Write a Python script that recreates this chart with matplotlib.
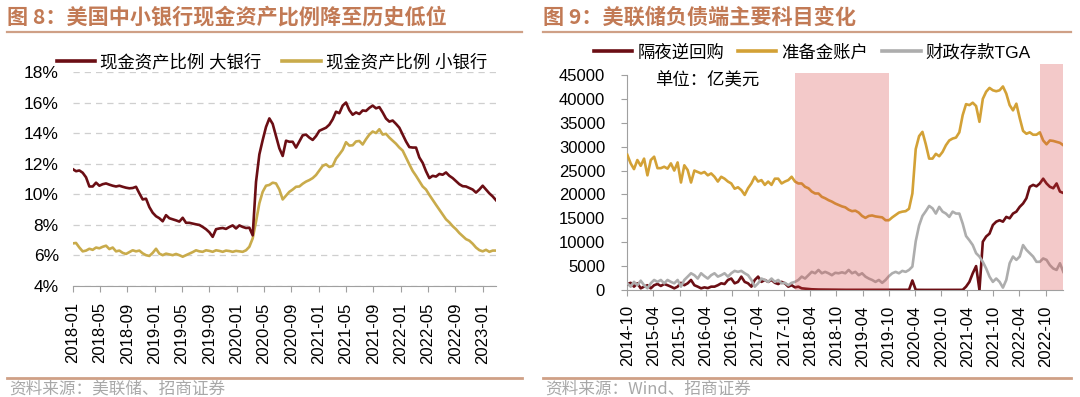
import numpy as np
import pandas as pd
import matplotlib
matplotlib.use('Agg')
import matplotlib.pyplot as plt
import matplotlib.dates as mdates
from matplotlib.lines import Line2D

plt.rcParams['font.family'] = ['Liberation Sans', 'Noto Sans CJK SC', 'DejaVu Sans']

# 图8：现金资产比例（%），半月频
big_bank = [11.64, 11.5, 11.55, 11.4, 11.1, 10.5, 10.5, 10.75, 10.55, 10.65,
            10.7, 10.62, 10.55, 10.5, 10.55, 10.48, 10.42, 10.38, 10.4, 10.48,
            10.05, 9.65, 9.7, 9.15, 8.78, 8.55, 8.42, 8.22, 8.62, 8.42,
            8.35, 8.28, 8.2, 8.45, 8.12, 8.12, 8.07, 8.02, 7.98, 7.85,
            7.7, 7.5, 7.2, 7.7, 7.75, 7.78, 7.72, 7.85, 7.95, 7.75,
            7.95, 7.85, 7.78, 7.8, 7.3, 10.8, 12.6, 13.54, 14.4, 14.96,
            14.6, 13.8, 13.0, 12.5, 13.5, 13.43, 13.43, 13.05, 13.45, 13.85,
            13.9, 13.7, 13.55, 13.8, 14.15, 14.25, 14.35, 14.55, 14.9, 15.4,
            15.3, 15.8, 16.0, 15.5, 15.2, 15.35, 15.25, 15.48, 15.45, 15.65,
            15.8, 15.62, 15.7, 15.35, 14.95, 14.75, 14.82, 14.6, 14.35, 13.9,
            13.45, 13.08, 13.05, 13.05, 12.4, 12.05, 11.5, 11.05, 11.2, 11.15,
            11.32, 11.27, 11.42, 11.2, 11.05, 10.85, 10.65, 10.52, 10.5, 10.4,
            10.3, 10.1, 10.3, 10.55, 10.3, 10.05, 9.85, 9.6]
small_bank = [6.77, 6.8, 6.5, 6.25, 6.3, 6.42, 6.35, 6.5, 6.45, 6.55,
              6.62, 6.4, 6.5, 6.25, 6.3, 6.15, 6.08, 6.2, 6.32, 6.25,
              6.3, 6.12, 6.0, 5.95, 6.15, 6.42, 6.1, 6.0, 6.1, 6.05,
              6.0, 6.08, 6.0, 5.9, 6.0, 6.1, 6.2, 6.32, 6.25, 6.22,
              6.32, 6.28, 6.22, 6.32, 6.28, 6.22, 6.3, 6.27, 6.22, 6.28,
              6.25, 6.22, 6.32, 6.55, 7.1, 8.2, 9.4, 10.15, 10.55, 10.6,
              10.75, 10.7, 10.3, 9.65, 9.9, 10.15, 10.3, 10.48, 10.5, 10.68,
              10.82, 10.92, 11.05, 11.25, 11.55, 11.85, 11.95, 11.78, 11.85, 12.32,
              12.6, 12.9, 13.4, 13.18, 13.2, 13.45, 13.48, 13.25, 13.6, 13.9,
              14.1, 14.0, 14.25, 13.9, 13.95, 13.7, 13.5, 13.3, 13.05, 12.85,
              12.4, 11.95, 11.52, 11.2, 10.85, 10.5, 10.3, 9.95, 9.62, 9.3,
              8.98, 8.65, 8.35, 8.15, 7.9, 7.7, 7.45, 7.25, 7.05, 6.95,
              6.75, 6.5, 6.33, 6.25, 6.35, 6.22, 6.3, 6.3]
bank_dates = pd.date_range('2018-01-01', '2023-03-01', periods=len(big_bank))

# 图9：美联储负债端（亿美元）
rrp = [1250, 1500, 700, 1400, 350, 700, 1000, 350, 1000, 1250,
       850, 1250, 1000, 700, 350, 700, 1500, 1000, 1400, 2100,
       1000, 700, 350, 550, 400, 700, 700, 1000, 1400, 1250,
       2100, 2400, 1400, 1700, 2800, 1700, 1400, 700, 2100, 2800,
       1700, 2100, 1700, 2100, 1500, 1250, 1700, 1400, 700, 1000,
       550, 700, 350, 280, 200, 150, 120, 100, 90, 80,
       70, 60, 50, 50, 40, 40, 40, 40, 40, 40,
       40, 40, 40, 40, 40, 40, 40, 40, 40, 40,
       40, 40, 40, 40, 40, 2000, 30, 20, 20, 20,
       20, 20, 20, 20, 20, 20, 20, 20, 20, 20,
       30, 700, 1700, 3500, 5000, 0, 10100, 11200, 11800, 13600,
       14300, 14600, 14300, 15300, 15000, 16000, 16400, 17400, 18100, 19200,
       21600, 22000, 21700, 22300, 23300, 22300, 21600, 21300, 22300, 20600, 20300]
reserves = [28300, 26500, 25300, 27200, 26000, 27500, 24000, 27200, 27900, 25500,
            25500, 25800, 25400, 26500, 25000, 26700, 22500, 26100, 25100, 22500,
            25000, 24700, 24400, 24700, 24000, 24400, 23700, 22700, 23700, 23300,
            22700, 22300, 21200, 21500, 20900, 19900, 21300, 22300, 23700, 22700,
            23000, 22000, 22700, 22000, 23300, 23300, 22300, 22700, 23000, 23700,
            22700, 22300, 22300, 21600, 21300, 20600, 20200, 20200, 19500, 19200,
            18800, 18500, 18100, 17800, 17500, 17300, 16800, 16500, 16600, 16200,
            15500, 15100, 15500, 15600, 15400, 15300, 15200, 14600, 14600, 15200,
            15700, 16200, 16400, 16500, 17000, 20200, 29500, 32200, 33100, 30500,
            27500, 27500, 28500, 28000, 28900, 30300, 31300, 31700, 31900, 33000,
            36600, 38900, 38700, 39200, 38500, 35200, 40000, 41500, 42300, 41800,
            41600, 41800, 42600, 41100, 38700, 37600, 39000, 36000, 33300, 32700,
            33000, 32500, 32500, 33000, 31300, 30500, 31300, 31200, 31000, 30800, 30300]
tga = [1400, 700, 1700, 1000, 1950, 1000, 350, 1400, 2100, 1700,
       2100, 1400, 2100, 1700, 1400, 2100, 700, 2100, 2800, 3500,
       3100, 2400, 3500, 2900, 2400, 3100, 3500, 2800, 3100, 3500,
       2800, 3500, 4000, 3800, 4000, 3500, 3100, 2100, 700, 1400,
       2400, 2100, 1700, 2400, 1700, 2100, 1400, 1500, 1000, 1500,
       1700, 2100, 2800, 2400, 3100, 3800, 3500, 4200, 3500, 3800,
       3500, 3100, 3600, 3500, 3700, 3500, 4200, 3500, 3800, 3100,
       3500, 2800, 2400, 2100, 1700, 2100, 1500, 2100, 2900, 3500,
       3800, 3500, 4000, 3800, 4200, 4900, 10200, 13500, 15500, 16500,
       17600, 17100, 16000, 17400, 16400, 16000, 15300, 16400, 16000, 16000,
       13900, 11300, 10400, 9400, 7700, 7000, 5900, 4500, 2800, 1700,
       2400, 1700, 500, 2100, 5600, 7000, 6300, 7000, 9400, 8400,
       7700, 7000, 5900, 5900, 6600, 6300, 5200, 4500, 4200, 5600, 3800]
fed_dates = pd.date_range('2014-10-01', '2023-02-01', periods=len(rrp))

# 缩表区间阴影
shade_start = ['2017-12-15', '2022-08-20']
shade_end = ['2019-10-05', '2023-02-01']
shade_top = [45500, 47300]

DARK = '#6B0E14'
GOLD_L = '#C9AB4B'
GOLD_R = '#D3A136'
GREY = '#ADADAD'
AXIS = '#A0A0A0'
TITLE_C = '#C27A55'
BAR_C = '#CFA086'
SRC_C = '#A8A8A8'

W, H = 1080, 397
fig = plt.figure(figsize=(W / 100, H / 100), dpi=100)

def fx(px):
    return px / W

def fy(py):
    return 1 - py / H

# 标题和上下装饰线
for x0, x1, title, src in [(7, 522, '图 8：美国中小银行现金资产比例降至历史低位', '资料来源：美联储、招商证券'),
                           (543, 1071, '图 9：美联储负债端主要科目变化', '资料来源：Wind、招商证券')]:
    fig.text(fx(x0), fy(17), title, fontsize=15.2, fontweight='bold', color=TITLE_C,
             va='center', ha='left', family=['Noto Sans CJK SC', 'DejaVu Sans'])
    fig.add_artist(Line2D([fx(x0), fx(x1)], [fy(31.5), fy(31.5)], color=BAR_C, lw=1.6))
    fig.add_artist(Line2D([fx(x0), fx(x1)], [fy(378), fy(378)], color=BAR_C, lw=2.0))
    fig.text(fx(x0 + 2), fy(389), src, fontsize=12, color=SRC_C, va='center', ha='left',
             family=['Noto Sans CJK SC', 'DejaVu Sans'])

# ---------------- 图8 ----------------
ax1 = fig.add_axes([fx(72.7), fy(285.7), fx(496 - 72.7), (285.7 - 72) / H])
ax1.plot(bank_dates, small_bank, color=GOLD_L, lw=1.9, zorder=3)
ax1.plot(bank_dates, big_bank, color=DARK, lw=1.9, zorder=4)
ax1.set_ylim(4, 18)
ax1.set_yticks(np.arange(4, 19, 2))
ax1.set_yticklabels(['%d%%' % v for v in np.arange(4, 19, 2)])
ax1.set_xlim(pd.Timestamp('2018-01-01'), pd.Timestamp('2023-03-01'))
ax1.set_xticks(pd.date_range('2018-01-01', '2023-01-01', freq='4MS'))
ax1.xaxis.set_major_formatter(mdates.DateFormatter('%Y-%m'))
ax1.yaxis.grid(True, color='#CFCFCF', lw=0.9, ls=(0, (5, 4)))
ax1.set_axisbelow(True)
for s in ['left', 'top', 'right']:
    ax1.spines[s].set_visible(False)
ax1.spines['bottom'].set_color(AXIS)
ax1.tick_params(axis='y', length=0, labelsize=12.5, pad=10)
ax1.tick_params(axis='x', length=4, color=AXIS, labelsize=12, pad=8, labelrotation=90)

h1 = [Line2D([], [], color=DARK, lw=2.6), Line2D([], [], color=GOLD_L, lw=2.6)]
fig.legend(h1, ['现金资产比例 大银行', '现金资产比例 小银行'], loc='center left',
           bbox_to_anchor=(fx(57), fy(62)), ncol=2, frameon=False, fontsize=12.5,
           handlelength=2.2, handletextpad=0.3, columnspacing=1.2,
           borderpad=0, borderaxespad=0)

# ---------------- 图9 ----------------
ax2 = fig.add_axes([fx(627.3), fy(290), fx(1063.3 - 627.3), (290 - 75) / H])
ax2.plot(fed_dates, rrp, color=DARK, lw=1.9, zorder=3)
ax2.plot(fed_dates, reserves, color=GOLD_R, lw=1.9, zorder=3)
ax2.plot(fed_dates, tga, color=GREY, lw=1.9, zorder=3)
for a, b, top in zip(shade_start, shade_end, shade_top):
    ax2.fill_between([pd.Timestamp(a), pd.Timestamp(b)], 0, top, color='#D43F3F',
                     alpha=0.28, lw=0, zorder=5, clip_on=False)
ax2.set_ylim(0, 45000)
ax2.set_yticks(np.arange(0, 45001, 5000))
ax2.set_xlim(pd.Timestamp('2014-10-01'), pd.Timestamp('2023-02-01'))
ax2.set_xticks(pd.date_range('2014-10-01', '2022-10-01', freq='6MS'))
ax2.xaxis.set_major_formatter(mdates.DateFormatter('%Y-%m'))
for s in ['top', 'right']:
    ax2.spines[s].set_visible(False)
for s in ['left', 'bottom']:
    ax2.spines[s].set_color(AXIS)
ax2.tick_params(axis='y', length=4, color=AXIS, labelsize=12, pad=12)
ax2.tick_params(axis='x', length=4, color=AXIS, labelsize=12, pad=7, labelrotation=90)
ax2.text(fx(655), fy(80), '单位：亿美元', transform=fig.transFigure, fontsize=12.5,
         va='center', ha='left', family=['Noto Sans CJK SC', 'DejaVu Sans'])

h2 = [Line2D([], [], color=DARK, lw=2.6), Line2D([], [], color=GOLD_R, lw=2.6),
      Line2D([], [], color=GREY, lw=2.6)]
fig.legend(h2, ['隔夜逆回购', '准备金账户', '财政存款TGA'], loc='center left',
           bbox_to_anchor=(fx(594), fy(52)), ncol=3, frameon=False, fontsize=12.5,
           handlelength=2.2, handletextpad=0.3, columnspacing=0.8,
           borderpad=0, borderaxespad=0)

fig.savefig('out.png', dpi=100)
